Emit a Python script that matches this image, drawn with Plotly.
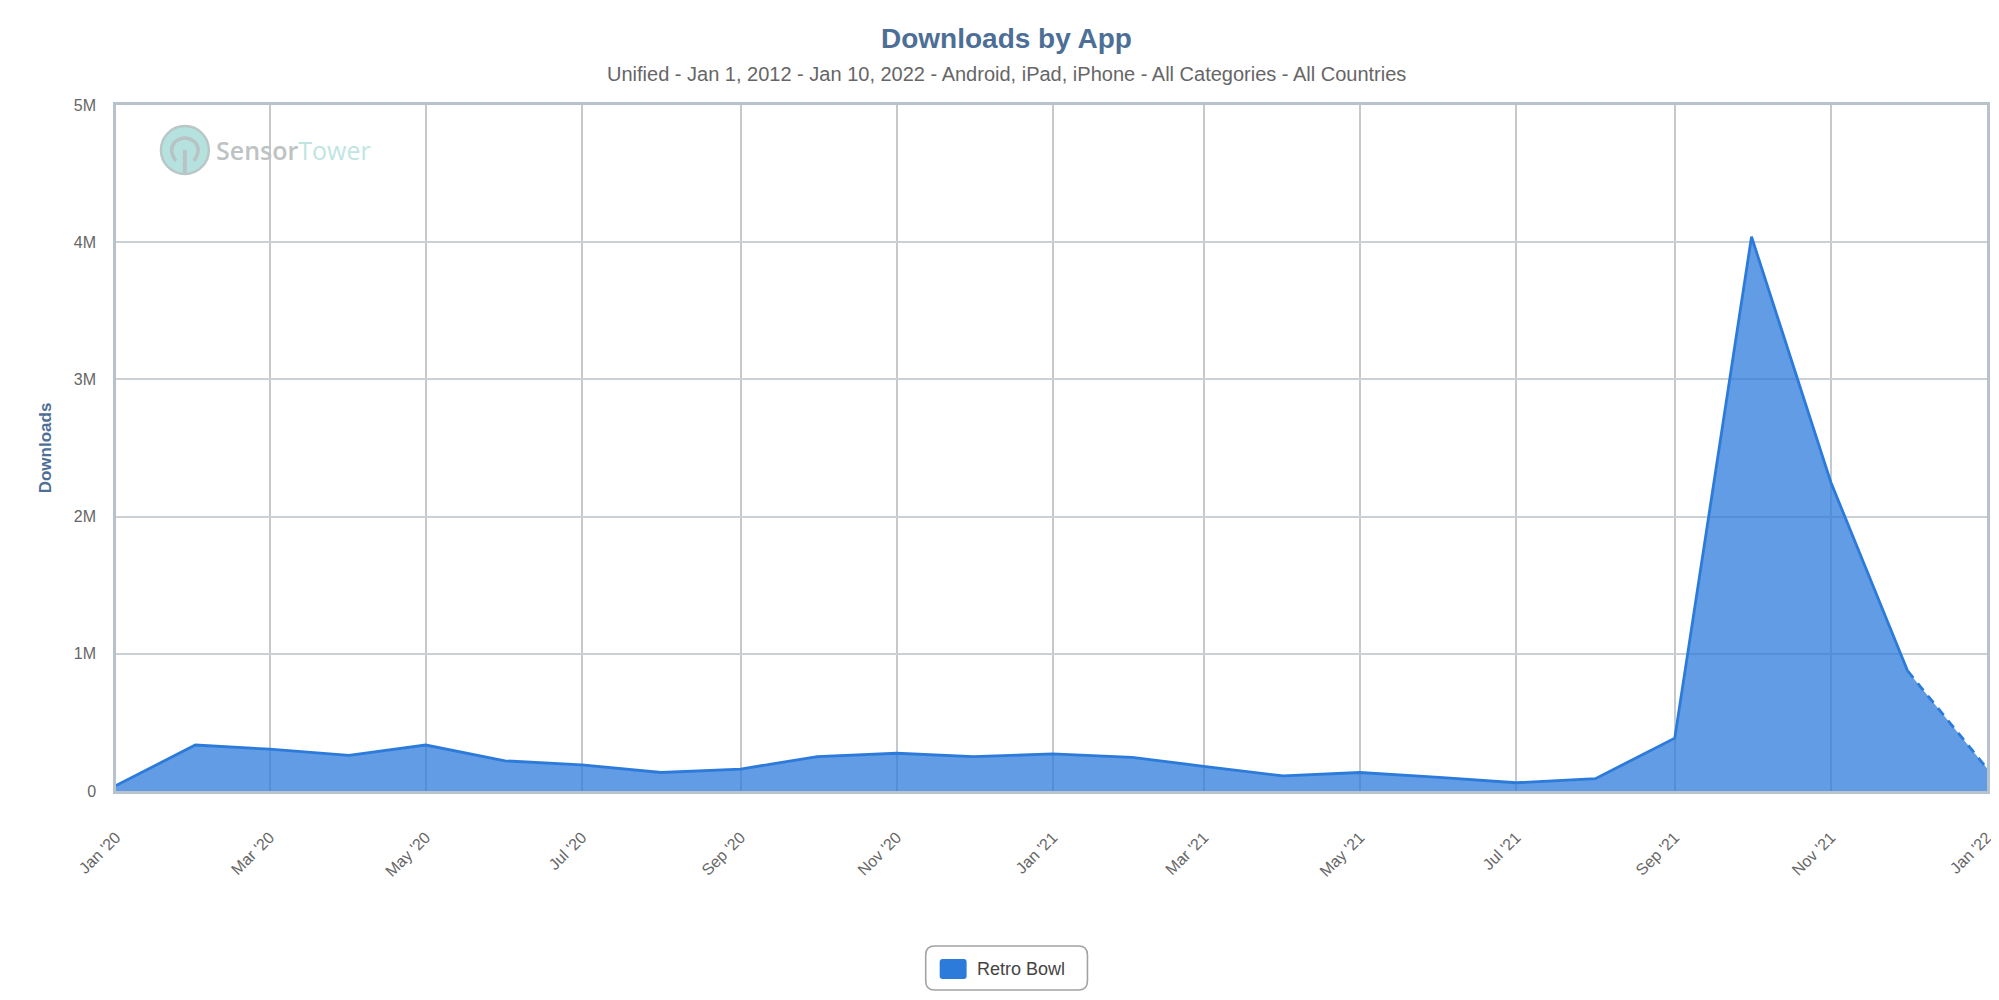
import plotly.graph_objects as go

months = ['2020-01-01', '2020-02-01', '2020-03-01', '2020-04-01', '2020-05-01', '2020-06-01', '2020-07-01',
          '2020-08-01', '2020-09-01', '2020-10-01', '2020-11-01', '2020-12-01', '2021-01-01', '2021-02-01',
          '2021-03-01', '2021-04-01', '2021-05-01', '2021-06-01', '2021-07-01', '2021-08-01', '2021-09-01',
          '2021-10-01', '2021-11-01', '2021-12-01', '2022-01-01']
downloads = [40000, 335000, 305000, 260000, 335000, 220000, 190000, 135000, 160000, 250000, 275000, 250000,
             270000, 245000, 180000, 110000, 135000, 100000, 60000, 90000, 385000, 4040000, 2250000, 875000, 165000]

x_ticks = months[::2]
x_labels = ["Jan '20", "Mar '20", "May '20", "Jul '20", "Sep '20", "Nov '20", "Jan '21", "Mar '21", "May '21",
            "Jul '21", "Sep '21", "Nov '21", "Jan '22"]
y_ticks = [0, 1000000, 2000000, 3000000, 4000000, 5000000]
y_labels = ['0', '1M', '2M', '3M', '4M', '5M']

W, H = 1999, 1000
L, R, T, B = 108, 1982, 97, 783
FONT = 'Liberation Sans'
BLUE = '#2c7bdb'


# page pixels to paper coordinates
def px(x):
    return (x - L) / (R - L)


def py(y):
    return (B - y) / (B - T)


def rounded(x0, y0, x1, y1, r):
    return (f'M {px(x0 + r)} {py(y0)} L {px(x1 - r)} {py(y0)} Q {px(x1)} {py(y0)} {px(x1)} {py(y0 + r)} '
            f'L {px(x1)} {py(y1 - r)} Q {px(x1)} {py(y1)} {px(x1 - r)} {py(y1)} '
            f'L {px(x0 + r)} {py(y1)} Q {px(x0)} {py(y1)} {px(x0)} {py(y1 - r)} '
            f'L {px(x0)} {py(y0 + r)} Q {px(x0)} {py(y0)} {px(x0 + r)} {py(y0)} Z')


fig = go.Figure()

fig.add_trace(go.Scatter(
    x=months, y=downloads, mode='none', fill='tozeroy',
    fillcolor='rgba(44,123,219,0.75)', showlegend=False
))
fig.add_trace(go.Scatter(
    x=months[:-1], y=downloads[:-1], mode='lines',
    line=dict(color=BLUE, width=2.8), name='Retro Bowl', showlegend=False
))
fig.add_trace(go.Scatter(
    x=months[-2:], y=downloads[-2:], mode='lines',
    line=dict(color=BLUE, width=2.8, dash='9px,7px'), showlegend=False
))

shapes = [
    # legend box and swatch
    dict(type='path', path=rounded(919, 938, 1081, 982, 9), xref='paper', yref='paper',
         line=dict(color='#a3a3a3', width=1.6), fillcolor='white'),
    dict(type='path', path=rounded(933, 951, 960, 971, 3), xref='paper', yref='paper',
         line=dict(color=BLUE, width=0), fillcolor=BLUE),
    # sensor tower logo
    dict(type='circle', xref='paper', yref='paper', x0=px(153), x1=px(201), y0=py(118), y1=py(166),
         line=dict(color='#b9c8c7', width=2.5), fillcolor='#b5e2df'),
    dict(type='path', xref='paper', yref='paper', line=dict(color='#b9c3c3', width=3.5),
         path=(f'M {px(168)} {py(153)} Q {px(160)} {py(142)} {px(167)} {py(134)} '
               f'Q {px(177)} {py(126)} {px(187)} {py(134)} Q {px(194)} {py(142)} {px(186)} {py(153)}')),
    dict(type='line', xref='paper', yref='paper', x0=px(177), x1=px(177), y0=py(142), y1=py(165),
         line=dict(color='#b9c3c3', width=4)),
]

annotations = [
    dict(text='Downloads by App', x=0.5, y=30, font=dict(family=FONT, size=28, color='#4d6f96')),
    dict(text='Unified - Jan 1, 2012 - Jan 10, 2022 - Android, iPad, iPhone - All Categories - All Countries',
         x=0.5, y=66, font=dict(family=FONT, size=20, color='#666666')),
]
for a in annotations:
    a.update(xref='paper', yref='paper', showarrow=False, xanchor='center', yanchor='middle')
    a['x'] = 1000 / W
    a['xref'] = 'paper'
    a['x'] = px(1000)
    a['y'] = py(a['y'])
    a['text'] = f"<b>{a['text']}</b>" if a['font']['size'] == 28 else a['text']

annotations += [
    dict(text='Retro Bowl', x=px(968), y=py(961), xref='paper', yref='paper', showarrow=False,
         xanchor='left', yanchor='middle', font=dict(family=FONT, size=18, color='#444444')),
    dict(text='<span style="color:#bdc3c3;font-weight:600">Sensor</span><span style="color:#bfe5e2">Tower</span>',
         x=px(206), y=py(142), xref='paper', yref='paper', showarrow=False,
         xanchor='left', yanchor='middle', font=dict(family='Open Sans', size=25)),
]

fig.update_layout(
    width=W, height=H,
    margin=dict(l=L, r=W - R, t=T, b=H - B),
    paper_bgcolor='white', plot_bgcolor='white',
    shapes=shapes, annotations=annotations,
    font=dict(family=FONT, color='#666666'),
    xaxis=dict(
        type='date', range=[months[0], months[-1]],
        tickmode='array', tickvals=x_ticks, ticktext=x_labels, tickangle=-45,
        tickfont=dict(family=FONT, size=16, color='#666666'), ticklabelstandoff=28,
        showgrid=True, gridcolor='#c6c9cc', gridwidth=1.6, zeroline=False,
        showline=True, linecolor='#b8c2cc', linewidth=2.5, mirror=True, ticks=''
    ),
    yaxis=dict(
        range=[0, 5000000], tickmode='array', tickvals=y_ticks, ticktext=y_labels,
        tickfont=dict(family=FONT, size=16, color='#666666'), ticklabelstandoff=14,
        showgrid=True, gridcolor='#cbd0d5', gridwidth=2, zeroline=False,
        showline=True, linecolor='#b8c2cc', linewidth=2.5, mirror=True, ticks='',
        title=dict(text='<b>Downloads</b>', font=dict(family=FONT, size=17, color='#4d6f96'), standoff=18)
    )
)

fig.write_html("out.html")
